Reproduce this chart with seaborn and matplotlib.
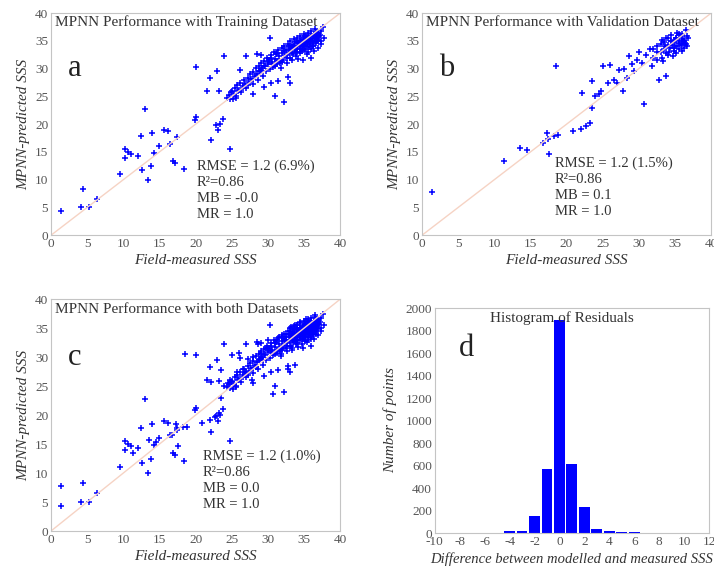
import matplotlib
matplotlib.use("Agg")
import matplotlib.pyplot as plt
import seaborn as sns
import pandas as pd

# ---------------- data ----------------
# Training dataset: field-measured vs MPNN-predicted SSS
train_measured = [
    1.4, 4.1, 4.4, 5.3, 6.4, 9.5, 10.2, 10.3, 10.7, 11.0, 12.0, 12.4, 12.6, 13.0, 13.4,
    13.8, 14.0, 14.2, 15.0, 15.7, 16.2, 16.5, 16.9, 17.2, 17.5, 18.4, 19.9, 20.0, 20.0,
    22.0, 22.2, 21.6, 22.8, 23.0, 23.1, 23.4, 23.8, 23.3, 24.7, 24.0,
    24.3, 24.6, 24.8, 25.0, 25.2, 25.4, 25.6, 25.8, 26.0, 26.1, 26.3, 26.5, 26.7, 26.9,
    27.0, 27.2, 27.4, 27.5, 27.7, 27.9, 28.0, 28.2, 28.3, 28.5, 28.6, 28.8, 28.9, 29.0,
    29.2, 29.3, 29.5, 29.6, 29.8, 29.9, 30.0, 30.2, 30.3, 30.4, 30.6, 30.7, 30.8, 31.0,
    31.1, 31.2, 31.4, 31.5, 31.6, 31.8, 31.9, 32.0, 32.1, 32.3, 32.4, 32.5, 32.6, 32.8,
    32.9, 33.0, 33.1, 33.2, 33.3, 33.4, 33.5, 33.6, 33.7, 33.8, 33.9, 34.0, 34.1, 34.2,
    34.3, 34.4, 34.5, 34.6, 34.7, 34.8, 34.9, 35.0, 35.1, 35.2, 35.3, 35.4, 35.5, 35.6,
    35.7, 35.8, 35.9, 36.0, 36.1, 36.2, 36.3, 36.4, 36.5, 36.6, 36.7, 36.8, 36.9, 37.0,
    37.2, 37.4, 37.6, 37.8, 35.2, 34.8, 35.6, 36.0, 36.3, 35.9, 34.5, 34.2, 33.8, 35.0,
    36.5, 36.8, 37.1, 33.0, 32.7, 34.0, 35.4, 36.6, 37.3, 35.8,
    27.0, 28.5, 29.0, 30.3, 29.5, 30.4, 31.0, 31.4, 32.2, 33.0, 32.8, 28.0, 26.2,
    36.1, 35.3, 34.6, 33.6, 36.4, 35.7, 34.9, 36.9, 33.4, 35.1, 36.2, 34.4, 37.0, 35.5,
    30.5, 31.0, 31.3, 31.7, 32.2, 32.6, 32.9, 33.3, 33.6, 33.9, 34.1, 34.4, 34.7, 35.0,
    35.3, 35.6, 35.9, 36.2, 36.5, 36.8, 37.0, 37.3, 36.0, 35.0, 34.0, 33.0, 32.0, 31.2,
    30.0, 29.5, 28.8, 28.0, 27.3, 26.6, 25.9, 25.3, 24.9, 25.6, 29.0, 30.6,
]
train_predicted = [
    4.4, 5.0, 8.3, 5.0, 6.5, 11.0, 15.5, 14.0, 15.0, 14.6, 14.3, 17.8, 11.8, 22.7, 10.0,
    12.4, 18.4, 14.8, 16.0, 18.9, 18.7, 16.5, 13.4, 13.1, 17.7, 12.0, 20.8, 21.3, 30.3,
    28.3, 17.1, 26.0, 19.9, 29.5, 19.0, 20.1, 21.0, 25.9, 15.5, 32.3,
    24.8, 25.3, 24.6, 25.9, 24.5, 26.5, 25.1, 27.0, 26.2, 27.5, 25.8, 26.9, 28.0, 27.2,
    26.5, 28.4, 27.6, 29.0, 28.1, 27.3, 29.4, 28.6, 30.2, 29.1, 27.9, 30.5, 29.6, 31.0,
    30.1, 28.7, 31.4, 30.4, 29.5, 32.0, 30.9, 31.6, 29.9, 32.4, 31.2, 30.3, 33.0, 31.8,
    32.6, 30.8, 33.3, 31.4, 32.2, 30.2, 33.8, 32.8, 31.6, 34.0, 32.4, 33.4, 31.0, 34.5,
    33.0, 32.0, 35.0, 33.7, 31.5, 34.3, 32.7, 35.3, 33.3, 34.8, 32.2, 35.6, 33.8, 31.8,
    34.6, 32.9, 35.9, 34.0, 33.2, 35.2, 31.5, 36.2, 34.4, 33.5, 35.7, 32.6, 36.5, 34.8,
    33.9, 35.3, 31.9, 36.8, 35.0, 34.1, 35.9, 33.2, 37.2, 34.6, 35.5, 36.3, 33.8, 35.1,
    36.0, 34.5, 37.5, 35.5, 35.0, 34.2, 35.5, 35.8, 34.8, 36.2, 33.5, 34.7, 33.6, 34.7,
    35.6, 34.9, 35.8, 33.4, 32.5, 33.0, 34.0, 36.6, 36.8, 34.4,
    32.3, 32.6, 32.5, 35.5, 26.7, 27.5, 25.0, 27.8, 24.0, 27.4, 28.5, 25.5, 29.8,
    35.4, 34.6, 35.1, 34.1, 36.0, 35.2, 33.9, 35.7, 33.9, 35.8, 34.3, 34.9, 36.4, 35.9,
    32.0, 30.5, 32.9, 31.0, 33.2, 32.0, 34.0, 32.9, 34.0, 33.0, 35.0, 33.6, 34.6, 33.3,
    35.0, 33.0, 35.0, 34.0, 35.0, 35.3, 36.5, 35.0, 33.5, 35.5, 34.0, 33.8, 31.2, 31.3,
    31.2, 30.5, 29.5, 28.2, 27.0, 26.5, 26.0, 25.4, 25.8, 24.8, 29.8, 30.8,
]

# Validation dataset
valid_measured = [
    1.4, 11.4, 13.5, 14.5, 16.8, 17.3, 17.5, 18.2, 18.8, 18.5, 20.9, 22.0, 22.7, 23.3,
    22.2, 23.5, 23.5, 24.0, 24.5, 24.8, 25.0, 25.8, 26.0, 26.5, 27.0, 27.3, 27.8, 28.0,
    28.3, 28.7, 29.0, 29.3, 29.8, 30.0, 30.5, 30.7, 31.0, 31.5, 31.8, 32.0, 32.5, 32.8,
    33.0, 33.2, 33.5, 33.7, 34.0, 34.2, 34.5, 34.7, 35.0, 35.2, 35.5, 35.7, 36.0, 36.3,
    36.5, 36.7, 33.3, 34.8, 35.5, 36.2, 34.0, 35.8, 36.0, 35.3, 36.6, 33.8, 32.5, 17.6,
    34.4, 35.1, 35.9, 36.4, 34.9, 33.6, 35.6, 36.1,
    32.0, 32.5, 33.0, 33.5, 34.0, 34.3, 34.6, 35.0, 35.3, 35.6, 35.9, 36.2, 36.5, 36.8,
    33.8, 34.8, 35.2, 36.0, 33.2, 34.5,
]
valid_predicted = [
    7.8, 13.4, 15.7, 15.3, 16.6, 18.4, 17.4, 17.9, 18.0, 30.5, 18.7, 19.2, 19.7, 20.3,
    25.7, 23.0, 27.8, 25.0, 25.5, 26.0, 30.4, 27.4, 30.7, 28.0, 27.5, 29.7, 26.0, 30.0,
    28.3, 32.3, 30.8, 29.5, 31.5, 33.0, 31.0, 23.7, 32.5, 33.5, 30.5, 32.0, 33.0, 28.0,
    34.5, 32.0, 33.5, 28.7, 34.3, 33.0, 35.0, 32.3, 34.0, 35.5, 33.5, 36.0, 34.5, 35.2,
    37.0, 34.0, 31.3, 34.8, 35.0, 33.8, 32.5, 34.2, 36.2, 36.5, 35.8, 35.5, 31.5, 14.6,
    34.9, 35.6, 35.4, 34.6, 33.7, 34.1, 36.3, 35.0,
    33.5, 34.0, 33.0, 34.8, 35.5, 33.8, 34.3, 35.2, 34.0, 34.6, 35.8, 35.0, 34.4, 35.6,
    32.8, 33.2, 32.8, 33.2, 35.2, 36.0,
]

# Histogram of residuals (bin centre -> count)
residual_bins = [-6, -5, -4, -3, -2, -1, 0, 1, 2, 3, 4, 5, 6]
residual_counts = [3, 4, 14, 16, 150, 570, 1890, 610, 230, 40, 20, 6, 5]

panel_titles = [
    "MPNN Performance with Training Dataset",
    "MPNN Performance with Validation Dataset",
    "MPNN Performance with both Datasets",
]
panel_letters = ["a", "b", "c", "d"]
stats_text = [
    "RMSE = 1.2 (6.9%)\nR\u00b2=0.86\nMB = -0.0\nMR = 1.0",
    "RMSE = 1.2 (1.5%)\nR\u00b2=0.86\nMB = 0.1\nMR = 1.0",
    "RMSE = 1.2 (1.0%)\nR\u00b2=0.86\nMB = 0.0\nMR = 1.0",
]
sss_range = [0, 40]

# ---------------- style ----------------
sns.set_theme(style="white")
plt.rcParams["font.family"] = ["Liberation Serif", "DejaVu Serif"]
plt.rcParams["axes.unicode_minus"] = False

SPINE = "#c4c4c4"
TICK = "#555555"
BLUE = "#0000ff"
ONE2ONE = "#f6d3c4"

fig = plt.figure(figsize=(7.14, 5.71), dpi=100)
ax_a = fig.add_axes([0.0714, 0.588, 0.405, 0.389])
ax_b = fig.add_axes([0.591, 0.588, 0.405, 0.389])
ax_c = fig.add_axes([0.0714, 0.070, 0.405, 0.406])
ax_d = fig.add_axes([0.609, 0.0665, 0.384, 0.394])

train_df = pd.DataFrame({"measured": train_measured, "predicted": train_predicted})
valid_df = pd.DataFrame({"measured": valid_measured, "predicted": valid_predicted})
both_df = pd.concat([train_df, valid_df], ignore_index=True)


def style_axes(ax):
    for sp in ax.spines.values():
        sp.set_color(SPINE)
        sp.set_linewidth(0.8)
    ax.tick_params(axis="both", length=0, labelsize=9.5, colors=TICK, pad=2)


def scatter_panel(ax, df, title, letter, stats):
    sns.lineplot(x=sss_range, y=sss_range, ax=ax, color=ONE2ONE, linewidth=1.0)
    sns.scatterplot(data=df, x="measured", y="predicted", ax=ax, marker="+",
                    color=BLUE, s=18, linewidth=1.1)
    ax.set_xlim(*sss_range)
    ax.set_ylim(*sss_range)
    ax.set_xticks(range(0, 41, 5))
    ax.set_yticks(range(0, 41, 5))
    ax.set_xlabel("Field-measured SSS", fontsize=11, style="italic", color="#333333",
                  labelpad=3)
    ax.set_ylabel("MPNN-predicted SSS", fontsize=11, style="italic", color="#333333",
                  labelpad=3)
    ax.text(0.5, 38.3, title, fontsize=11, ha="left", va="center", color="#333333")
    ax.text(2.3, 30.0, letter, fontsize=22, ha="left", va="center", color="#222222")
    ax.text(stats[0], stats[1], stats[2], fontsize=10.5, ha="left", va="top",
            color="#333333", linespacing=1.3)
    style_axes(ax)


scatter_panel(ax_a, train_df, panel_titles[0], panel_letters[0],
              (20.2, 13.6, stats_text[0]))
scatter_panel(ax_b, valid_df, panel_titles[1], panel_letters[1],
              (18.4, 14.2, stats_text[1]))
scatter_panel(ax_c, both_df, panel_titles[2], panel_letters[2],
              (21.0, 14.0, stats_text[2]))

# residual histogram
hist_df = pd.DataFrame({"residual": residual_bins, "count": residual_counts})
sns.histplot(data=hist_df, x="residual", weights="count", discrete=True, shrink=0.87,
             ax=ax_d, color=BLUE, alpha=1.0, edgecolor="none")
ax_d.set_xlim(-10, 12)
ax_d.set_ylim(0, 2000)
ax_d.set_xticks(range(-10, 13, 2))
ax_d.set_yticks(range(0, 2001, 200))
ax_d.set_xlabel("Difference between modelled and measured SSS", fontsize=10.5,
                style="italic", color="#333333", labelpad=3)
ax_d.set_ylabel("Number of points", fontsize=11, style="italic", color="#333333",
                labelpad=6)
ax_d.text(0.465, 0.955, "Histogram of Residuals", transform=ax_d.transAxes,
          fontsize=11, ha="center", va="center", color="#333333")
ax_d.text(0.115, 0.82, panel_letters[3], transform=ax_d.transAxes, fontsize=22,
          ha="center", va="center", color="#222222")
style_axes(ax_d)

fig.savefig("out.png", dpi=100)
